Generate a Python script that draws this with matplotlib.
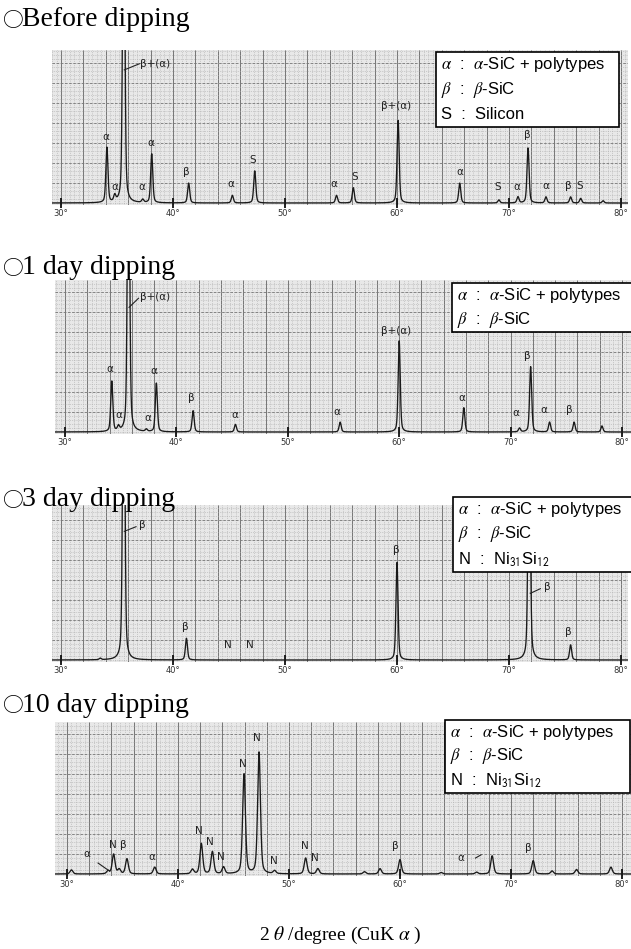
import numpy as np
import matplotlib
matplotlib.use("Agg")
import matplotlib.pyplot as plt
from matplotlib.patches import Rectangle

W, H = 631, 949

# ---- values (2theta in degree, relative intensity) ----
before_pos = [34.1, 34.8, 35.6, 37.3, 38.1, 41.4, 45.3, 47.3, 54.6, 56.1, 60.1,
              65.6, 69.1, 70.8, 71.7, 73.3, 75.5, 76.4, 78.4]
before_hgt = [0.36, 0.04, 2.5, 0.02, 0.32, 0.13, 0.05, 0.21, 0.05, 0.10, 0.54,
              0.13, 0.02, 0.04, 0.36, 0.04, 0.04, 0.03, 0.015]
before_lbl = ['α', 'α', 'α', 'α', 'β', 'α', 'S', 'α', 'S', 'β+(α)', 'α', 'S', 'α',
              'β', 'α', 'β', 'S']
before_lbl_x = [34.0, 34.8, 37.2, 38.0, 41.2, 45.2, 47.1, 54.4, 56.2, 59.9, 65.6,
                69.0, 70.7, 71.6, 73.3, 75.3, 76.3]
before_lbl_y = [0.40, 0.07, 0.07, 0.36, 0.17, 0.09, 0.25, 0.09, 0.14, 0.60, 0.17,
                0.07, 0.07, 0.41, 0.08, 0.08, 0.08]

day1_pos = [34.2, 34.8, 35.7, 37.3, 38.2, 41.5, 45.3, 54.7, 60.0, 65.8, 70.8,
            71.8, 73.5, 75.7, 78.2]
day1_hgt = [0.33, 0.03, 2.5, 0.015, 0.32, 0.14, 0.05, 0.065, 0.60, 0.16, 0.025,
            0.43, 0.065, 0.065, 0.04]
day1_lbl = ['α', 'α', 'α', 'α', 'β', 'α', 'α', 'β+(α)', 'α', 'α', 'β', 'α', 'β']
day1_lbl_x = [34.0, 34.8, 37.4, 38.0, 41.3, 45.2, 54.4, 59.7, 65.6, 70.5, 71.5,
              73.0, 75.3]
day1_lbl_y = [0.38, 0.08, 0.06, 0.37, 0.19, 0.08, 0.10, 0.63, 0.19, 0.09, 0.47,
              0.11, 0.11]

day3_pos = [33.5, 35.6, 41.2, 60.0, 71.8, 75.5]
day3_hgt = [0.01, 2.5, 0.14, 0.63, 2.0, 0.097]
day3_lbl = ['β', 'N', 'N', 'β', 'β']
day3_lbl_x = [41.1, 44.9, 46.9, 59.9, 75.3]
day3_lbl_y = [0.18, 0.065, 0.065, 0.68, 0.15]

day10_pos = [30.4, 33.7, 34.2, 34.7, 35.4, 37.9, 41.3, 42.1, 43.1, 44.1, 45.95,
             47.3, 48.7, 51.5, 52.6, 56.8, 58.2, 60.0, 63.7, 66.9, 68.3, 72.0,
             73.7, 75.9, 79.0]
day10_hgt = [0.027, 0.02, 0.13, 0.03, 0.10, 0.045, 0.03, 0.20, 0.146, 0.045, 0.656,
             0.80, 0.02, 0.105, 0.035, 0.015, 0.035, 0.095, 0.01, 0.012, 0.12, 0.088,
             0.02, 0.03, 0.045]
day10_lbl = ['α', 'N', 'β', 'α', 'N', 'N', 'N', 'N', 'N', 'N', 'N', 'N', 'β', 'α', 'β']
day10_lbl_x = [31.8, 34.1, 35.1, 37.6, 41.9, 42.9, 43.9, 45.8, 47.1, 48.6, 51.4,
               52.3, 59.6, 65.5, 71.6]
day10_lbl_y = [0.10, 0.16, 0.16, 0.08, 0.25, 0.18, 0.08, 0.69, 0.86, 0.05, 0.15,
               0.075, 0.15, 0.075, 0.14]

# leader lines: (text, text x, text y, line x0, y0, x1, y1)
before_callouts = [('β+(α)', 37.05, 0.91, 35.65, 0.87, 37.0, 0.91)]
day1_callouts = [('β+(α)', 36.7, 0.89, 35.75, 0.82, 36.6, 0.88)]
day3_callouts = [('β', 37.0, 0.87, 35.65, 0.83, 36.7, 0.86),
                 ('β', 73.1, 0.47, 71.9, 0.43, 72.8, 0.46)]
day10_callouts = [('', 0, 0, 32.8, 0.072, 33.85, 0.018),
                  ('', 0, 0, 66.8, 0.105, 67.3, 0.126)]

legend_before = ['$\\alpha$  :  $\\alpha$-SiC + polytypes', '$\\beta$  :  $\\beta$-SiC',
                 'S  :  Silicon']
legend_1day = ['$\\alpha$  :  $\\alpha$-SiC + polytypes', '$\\beta$  :  $\\beta$-SiC']
legend_n = ['$\\alpha$  :  $\\alpha$-SiC + polytypes', '$\\beta$  :  $\\beta$-SiC',
            'N  :  Ni$_{\\mathsf{31}}$Si$_{\\mathsf{12}}$']

titles = ['Before dipping', '1 day dipping', '3 day dipping', '10 day dipping']
tick_vals = [30, 40, 50, 60, 70, 80]

SERIF = ['Liberation Serif', 'DejaVu Serif']
SANS = ['Liberation Sans', 'DejaVu Sans']


def profile(x, pos, hgt, fwhm):
    """Sum of pseudo-Voigt peaks built from the read peak table."""
    y = np.zeros_like(x)
    for p, h in zip(pos, hgt):
        g = np.exp(-4 * np.log(2) * ((x - p) / fwhm) ** 2)
        l = 1.0 / (1.0 + 4 * ((x - p) / fwhm) ** 2)
        y += h * (0.6 * g + 0.4 * l)
    return y


def add_axes_px(fig, left, top, right, bottom):
    return fig.add_axes([left / W, 1 - bottom / H, (right - left) / W, (bottom - top) / H])


def draw_panel(fig, box, x0_px, deg_px, pos, hgt, fwhm, lbl, lbl_x, lbl_y, callouts):
    left, top, right, base = box
    ax = add_axes_px(fig, left, top, right, base + 2)
    height_px = base + 2 - top
    xmin = 30 - (x0_px - left) / deg_px
    xmax = 30 + (right - x0_px) / deg_px
    ymin = -2.0 / (base - top)
    ax.set_xlim(xmin, xmax)
    ax.set_ylim(ymin, 1.0)
    ax.set_facecolor('#e8e8e8')

    # chart paper grid
    yax = ax.get_xaxis_transform()
    ax.vlines(np.arange(20, 90, 0.4), 0, 1, transform=yax, colors='#acacac',
              linestyles=':', linewidth=0.5, zorder=0)
    ax.vlines(np.arange(20, 90, 2), 0, 1, transform=yax, colors='#666666',
              linewidth=0.6, zorder=0)
    frac0 = -ymin / (1 - ymin)
    step = 4.0 / height_px
    ax.hlines(np.arange(frac0, 1, step), 0, 1, transform=ax.transAxes,
              colors='#acacac', linestyles=':', linewidth=0.5, zorder=0)
    ax.hlines(np.arange(frac0 + 5 * step, 1, 5 * step), 0, 1, transform=ax.transAxes,
              colors='#777777', linestyles=(0, (3, 2)), linewidth=0.6, zorder=0)

    x = np.arange(xmin, xmax, 0.01)
    ax.plot(x, profile(x, pos, hgt, fwhm), color='#1a1a1a', linewidth=0.95, zorder=3)

    for t, tx, ty in zip(lbl, lbl_x, lbl_y):
        ax.text(tx, ty, t, ha='center', va='bottom', fontsize=7.5, color='#222222',
                family='DejaVu Sans', zorder=4)
    for t, tx, ty, lx0, ly0, lx1, ly1 in callouts:
        ax.plot([lx0, lx1], [ly0, ly1], color='#222222', linewidth=0.8, zorder=4)
        if t:
            ax.text(tx, ty, t, ha='left', va='center', fontsize=7.5, color='#222222',
                    family='DejaVu Sans', zorder=4)

    for s in ['top', 'right', 'left']:
        ax.spines[s].set_visible(False)
    ax.spines['bottom'].set_position(('data', 0))
    ax.spines['bottom'].set_visible(False)
    ax.set_yticks([])
    ax.set_xticks(tick_vals)
    ax.set_xticklabels([f'{v}°' for v in tick_vals], fontsize=6, color='#333333',
                       family='DejaVu Sans')
    ax.tick_params(axis='x', direction='inout', length=7, width=1.3, pad=1,
                   color='#111111')
    return ax


def draw_legend(fig, box, lines):
    left, top, right, bottom = box
    fig.add_artist(Rectangle((left / W, 1 - bottom / H), (right - left) / W,
                             (bottom - top) / H, transform=fig.transFigure,
                             facecolor='white', edgecolor='black', linewidth=1.2,
                             zorder=5))
    n = len(lines)
    gap = (bottom - top) / n
    for i, t in enumerate(lines):
        fig.text((left + 5) / W, 1 - (top + gap * (i + 0.5)) / H, t, ha='left',
                 va='center', fontsize=12, family=SANS, math_fontfamily='stix',
                 zorder=6)


fig = plt.figure(figsize=(W / 100, H / 100), dpi=100)
fig.patch.set_facecolor('white')

# panel boxes in pixels: left, top, right, baseline
draw_panel(fig, (52, 50, 628, 203), 61, 11.2, before_pos, before_hgt, 0.22,
           before_lbl, before_lbl_x, before_lbl_y, before_callouts)
draw_panel(fig, (55, 280, 631, 432), 65, 11.14, day1_pos, day1_hgt, 0.22,
           day1_lbl, day1_lbl_x, day1_lbl_y, day1_callouts)
draw_panel(fig, (52, 505, 628, 660), 61, 11.2, day3_pos, day3_hgt, 0.22,
           day3_lbl, day3_lbl_x, day3_lbl_y, day3_callouts)
draw_panel(fig, (55, 722, 631, 874), 67, 11.1, day10_pos, day10_hgt, 0.30,
           day10_lbl, day10_lbl_x, day10_lbl_y, day10_callouts)

draw_legend(fig, (436, 52, 619, 127), legend_before)
draw_legend(fig, (452, 283, 640, 332), legend_1day)
draw_legend(fig, (453, 497, 640, 572), legend_n)
draw_legend(fig, (445, 720, 630, 793), legend_n)

for t, y in zip(titles, [20, 268, 500, 705]):
    fig.text(3 / W, 1 - (y + 1) / H, '○', ha='left', va='center', fontsize=15,
             family=['Noto Sans CJK JP', 'DejaVu Sans'])
    fig.text(22 / W, 1 - y / H, t, ha='left', va='center', fontsize=20, family=SERIF)

fig.text(340 / W, 1 - 935 / H, '2 $\\theta$ /degree (CuK $\\alpha$ )', ha='center',
         va='center', fontsize=14, family=SERIF, math_fontfamily='stix')

fig.savefig('out.png', dpi=100)
